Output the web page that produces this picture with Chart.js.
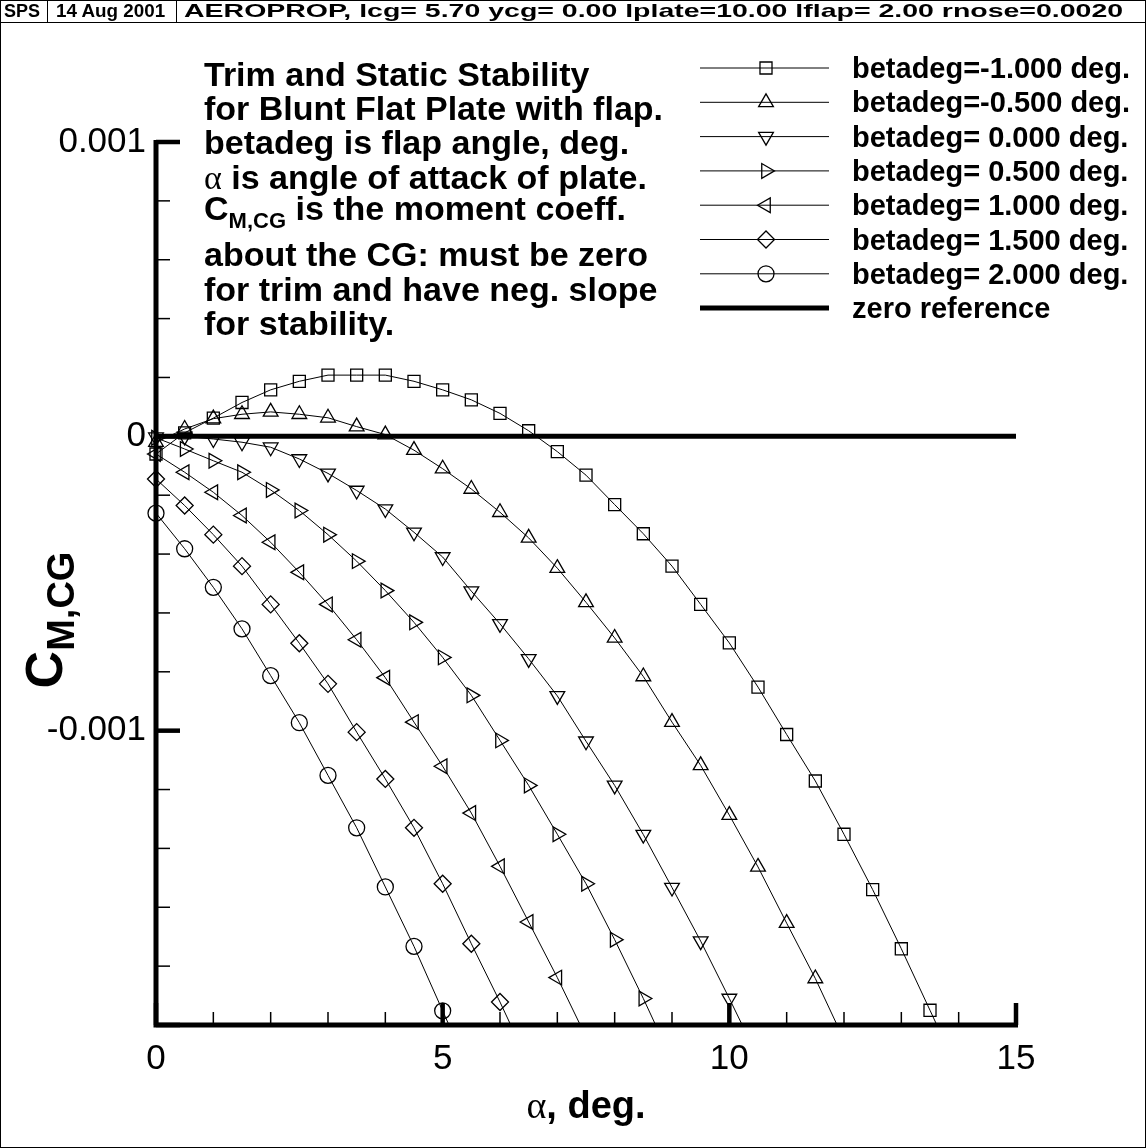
<!DOCTYPE html>
<html>
<head>
<meta charset="utf-8">
<title>Trim and Static Stability</title>
<script src="https://cdn.jsdelivr.net/npm/chart.js@4.4.1/dist/chart.umd.min.js"></script>
<style>
  body { margin: 0; background: #fff; }
  #plot { position: relative; width: 1146px; height: 1148px; font-family: "Liberation Sans", Arial, sans-serif; color: #000; }
  #plot canvas { position: absolute; left: 0; top: 0; }
  .frame { position: absolute; left: 0; top: 0; width: 1146px; height: 1148px; box-sizing: border-box; border: 1px solid #000; }
  .hline { position: absolute; left: 0; top: 22px; width: 1146px; height: 1px; background: #000; }
  .vsep { position: absolute; top: 0; width: 1px; height: 22px; background: #000; }
  .hdr { position: absolute; top: 1px; font-weight: bold; font-size: 19px; line-height: 20px; white-space: nowrap; transform-origin: 0 0; }
  .note { position: absolute; left: 204px; font-weight: bold; font-size: 34px; line-height: 34px; white-space: nowrap; }
  .note sub { font-size: 22px; vertical-align: -8px; line-height: 0; }
  .sym { font-family: "Liberation Serif", "DejaVu Serif", serif; font-weight: normal; }
  .leg { position: absolute; left: 852px; font-weight: bold; font-size: 29px; line-height: 29px; white-space: nowrap; }
  .xtitle { position: absolute; left: 586px; top: 1105px; transform: translate(-50%, -50%); font-weight: bold; font-size: 38px; white-space: nowrap; }
  .ytitle { position: absolute; left: 44px; top: 620px; transform: translate(-50%, -50%) rotate(-90deg); font-weight: bold; font-size: 52px; white-space: nowrap; }
  .ytitle sub { font-size: 38px; vertical-align: -12px; line-height: 0; }
</style>
</head>
<body>
<div id="plot">
  <canvas id="cmChart" width="1146" height="1148"></canvas>
  <div class="frame"></div>
  <div class="hline"></div>
  <div class="vsep" style="left:47px"></div>
  <div class="vsep" style="left:176px"></div>
  <div class="hdr" style="left:4px" data-right="40">SPS</div>
  <div class="hdr" style="left:56px" data-right="165">14 Aug 2001</div>
  <div class="hdr" style="left:184px" data-right="1124">AEROPROP, lcg= 5.70 ycg= 0.00 lplate=10.00 lflap= 2.00 rnose=0.0020</div>

  <div class="note" style="top:57px">Trim and Static Stability</div>
  <div class="note" style="top:91px">for Blunt Flat Plate with flap.</div>
  <div class="note" style="top:125px">betadeg is flap angle, deg.</div>
  <div class="note" style="top:160px"><span class="sym">α</span> is angle of attack of plate.</div>
  <div class="note" style="top:191px">C<sub>M,CG</sub> is the moment coeff.</div>
  <div class="note" style="top:237px">about the CG: must be zero</div>
  <div class="note" style="top:272px">for trim and have neg. slope</div>
  <div class="note" style="top:306px">for stability.</div>

  <div id="legendText"></div>

  <div class="xtitle"><span class="sym">α</span>, deg.</div>
  <div class="ytitle">C<sub>M,CG</sub></div>
</div>
<script>
// angle of attack, deg (every curve is sampled at these angles, shorter curves stop early)
const alphaDeg = [0, 0.5, 1, 1.5, 2, 2.5, 3, 3.5, 4, 4.5, 5, 5.5, 6, 6.5, 7,
                  7.5, 8, 8.5, 9, 9.5, 10, 10.5, 11, 11.5, 12, 12.5, 13, 13.5, 14];

// C_M,CG in units of 0.001, one list per flap angle
const cmBetaM10 = [-0.060, 0.012, 0.062, 0.115, 0.158, 0.187, 0.208, 0.208, 0.208, 0.187,
                   0.158, 0.124, 0.078, 0.019, -0.052, -0.132, -0.232, -0.331, -0.441, -0.571,
                   -0.702, -0.852, -1.013, -1.171, -1.352, -1.540, -1.741, -1.950, -2.160];
const cmBetaM05 = [-0.020, 0.025, 0.060, 0.075, 0.083, 0.075, 0.063, 0.033, 0.006, -0.047,
                   -0.110, -0.179, -0.258, -0.345, -0.448, -0.564, -0.685, -0.816, -0.971, -1.118,
                   -1.287, -1.463, -1.654, -1.842, -2.050];
const cmBeta00 = [-0.003, 0.000, -0.009, -0.020, -0.037, -0.077, -0.126, -0.184, -0.247, -0.326,
                  -0.410, -0.526, -0.637, -0.756, -0.882, -1.036, -1.186, -1.353, -1.533, -1.715,
                  -1.910, -2.110];
const cmBeta05 = [-0.005, -0.043, -0.083, -0.122, -0.182, -0.252, -0.334, -0.424, -0.524, -0.632,
                  -0.751, -0.880, -1.033, -1.186, -1.352, -1.520, -1.710, -1.910, -2.120];
const cmBeta10 = [-0.060, -0.122, -0.190, -0.269, -0.360, -0.462, -0.571, -0.691, -0.820, -0.971,
                  -1.121, -1.280, -1.461, -1.650, -1.839, -2.040];
const cmBeta15 = [-0.145, -0.235, -0.334, -0.441, -0.571, -0.703, -0.841, -1.005, -1.164, -1.330,
                  -1.520, -1.724, -1.922, -2.130];
const cmBeta20 = [-0.261, -0.382, -0.513, -0.654, -0.813, -0.973, -1.152, -1.330, -1.531, -1.733,
                  -1.952, -2.170];

const seriesNames = ['betadeg=-1.000 deg.', 'betadeg=-0.500 deg.', 'betadeg= 0.000 deg.',
                     'betadeg= 0.500 deg.', 'betadeg= 1.000 deg.', 'betadeg= 1.500 deg.',
                     'betadeg= 2.000 deg.'];
const zeroName = 'zero reference';
const zeroLine = [0, 0];
const zeroLineAlpha = [0, 15];

// x ticks every 5 deg, y ticks every 0.001
const xMajorStep = 5, xMinorStep = 1;
const yMajorStep = 1, yMinorStep = 0.2;

// header pieces are stretched to fill their boxes
document.querySelectorAll('.hdr').forEach(function (el) {
  var target = Number(el.dataset.right) - el.offsetLeft;
  el.style.transform = 'scaleX(' + (target / el.offsetWidth).toFixed(3) + ')';
});

var allSeries = [cmBetaM10, cmBetaM05, cmBeta00, cmBeta05, cmBeta10, cmBeta15, cmBeta20];
var markerShape = [
  {style: 'rect', rot: 0, r: 8.5},
  {style: 'triangle', rot: 0, r: 8.5},
  {style: 'triangle', rot: 180, r: 8.5},
  {style: 'triangle', rot: 90, r: 8.5},
  {style: 'triangle', rot: 270, r: 8.5},
  {style: 'rectRot', rot: 0, r: 8.5},
  {style: 'circle', rot: 0, r: 8}
];
var FONT = '"Liberation Sans", Arial, sans-serif';

var datasets = allSeries.map(function (vals, i) {
  return {
    label: seriesNames[i],
    data: vals.map(function (v, k) { return {x: alphaDeg[k], y: v}; }),
    borderColor: '#000',
    borderWidth: 1,
    tension: 0,
    pointStyle: markerShape[i].style,
    rotation: markerShape[i].rot,
    pointRadius: markerShape[i].r,
    pointBorderWidth: 1.3,
    pointBorderColor: '#000',
    pointBackgroundColor: 'rgba(0,0,0,0)',
    clip: {left: 20, top: 20, right: 20, bottom: 0}
  };
});
datasets.push({
  label: zeroName,
  data: zeroLine.map(function (v, k) { return {x: zeroLineAlpha[k], y: v}; }),
  borderColor: '#000',
  borderWidth: 5,
  pointRadius: 0,
  clip: false
});

// axes drawn as in the original plotting package: thick lines, inward ticks
var axisFrame = {
  id: 'axisFrame',
  afterDatasetsDraw: function (chart) {
    var ctx = chart.ctx, a = chart.chartArea, xs = chart.scales.x, ys = chart.scales.y;
    ctx.save();
    ctx.strokeStyle = '#000';
    ctx.lineCap = 'butt';
    var v, p;
    ctx.lineWidth = 1.5;
    for (v = xs.min; v <= xs.max + 1e-9; v += xMinorStep) {
      p = xs.getPixelForValue(v);
      ctx.beginPath(); ctx.moveTo(p, a.bottom); ctx.lineTo(p, a.bottom - 13); ctx.stroke();
    }
    for (v = ys.min; v <= ys.max + 1e-9; v += yMinorStep) {
      p = ys.getPixelForValue(v);
      ctx.beginPath(); ctx.moveTo(a.left, p); ctx.lineTo(a.left + 14, p); ctx.stroke();
    }
    ctx.lineWidth = 4.5;
    for (v = xs.min; v <= xs.max + 1e-9; v += xMajorStep) {
      p = xs.getPixelForValue(v);
      ctx.beginPath(); ctx.moveTo(p, a.bottom); ctx.lineTo(p, a.bottom - 22); ctx.stroke();
    }
    for (v = ys.min; v <= ys.max + 1e-9; v += yMajorStep) {
      p = ys.getPixelForValue(v);
      ctx.beginPath(); ctx.moveTo(a.left, p); ctx.lineTo(a.left + 24, p); ctx.stroke();
    }
    ctx.lineWidth = 5;
    ctx.beginPath();
    ctx.moveTo(a.left, a.top - 2);
    ctx.lineTo(a.left, a.bottom);
    ctx.lineTo(a.right + 2, a.bottom);
    ctx.stroke();
    ctx.restore();
  }
};

// legend samples: short line with the series marker in the middle
var legendRows = {
  id: 'legendRows',
  afterDraw: function (chart) {
    var ctx = chart.ctx;
    ctx.save();
    for (var i = 0; i < chart.data.datasets.length; i++) {
      var ds = chart.data.datasets[i];
      var y = 68 + i * 34.3;
      ctx.strokeStyle = '#000';
      ctx.lineWidth = ds.borderWidth;
      ctx.beginPath(); ctx.moveTo(700, y); ctx.lineTo(829, y); ctx.stroke();
      if (ds.pointRadius > 0) {
        ctx.fillStyle = 'rgba(0,0,0,0)';
        ctx.lineWidth = ds.pointBorderWidth;
        Chart.helpers.drawPoint(ctx, {pointStyle: ds.pointStyle, rotation: ds.rotation,
          radius: ds.pointRadius, borderWidth: ds.pointBorderWidth}, 766, y);
      }
    }
    ctx.restore();
  }
};

var legendBox = document.getElementById('legendText');
datasets.forEach(function (ds, i) {
  var d = document.createElement('div');
  d.className = 'leg';
  d.style.top = (68 + i * 34.3 - 14) + 'px';
  d.textContent = ds.label;
  legendBox.appendChild(d);
});

new Chart(document.getElementById('cmChart').getContext('2d'), {
  type: 'line',
  data: {datasets: datasets},
  options: {
    responsive: false,
    animation: false,
    devicePixelRatio: 1,
    events: [],
    layout: {padding: {top: 142, right: 130, left: 0, bottom: 0}},
    plugins: {legend: {display: false}, tooltip: {enabled: false}},
    scales: {
      x: {
        type: 'linear', min: 0, max: 15,
        grid: {display: false, drawTicks: false},
        border: {display: false},
        ticks: {stepSize: xMajorStep, padding: 13, color: '#000', maxRotation: 0,
                font: {family: FONT, size: 35}},
        afterFit: function (s) { s.height = 123; }
      },
      y: {
        type: 'linear', min: -2, max: 1,
        grid: {display: false, drawTicks: false},
        border: {display: false},
        ticks: {stepSize: yMajorStep, padding: 10, color: '#000',
                font: {family: FONT, size: 35},
                callback: function (v) {
                  if (v === 0) return '0';
                  if (v <= -2) return '';
                  return (v / 1000).toFixed(3);
                }},
        afterFit: function (s) { s.width = 156; }
      }
    }
  },
  plugins: [axisFrame, legendRows]
});
</script>
</body>
</html>
